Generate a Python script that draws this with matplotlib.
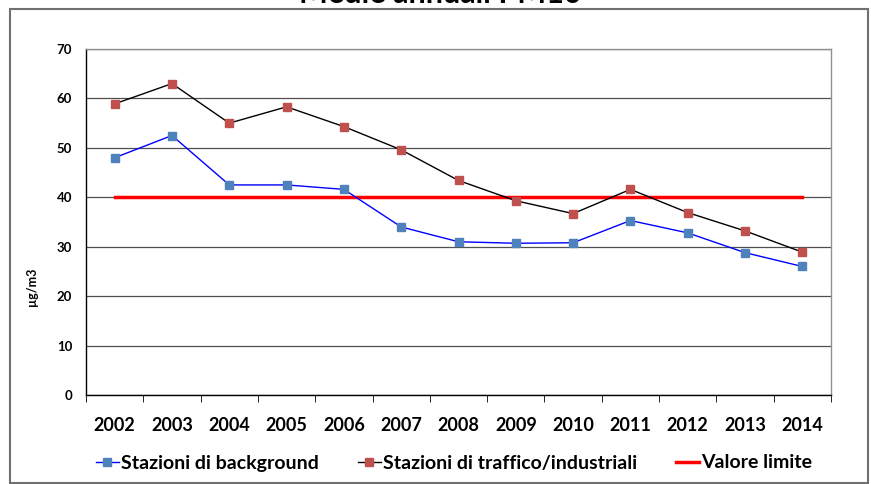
import numpy as np
import matplotlib.pyplot as plt
from matplotlib.lines import Line2D
from matplotlib.patches import Rectangle

years = ['2002', '2003', '2004', '2005', '2006', '2007', '2008',
         '2009', '2010', '2011', '2012', '2013', '2014']
background = [48.0, 52.5, 42.5, 42.5, 41.6, 34.0, 31.0, 30.7, 30.8, 35.3, 32.8, 28.8, 26.0]
traffico = [58.9, 63.0, 55.0, 58.3, 54.3, 49.6, 43.4, 39.3, 36.7, 41.6, 36.9, 33.2, 28.9]
limite = [40] * len(years)

plt.rcParams['font.family'] = ['Lato', 'DejaVu Sans']
plt.rcParams['font.weight'] = 'bold'

W, H = 871, 484
fig = plt.figure(figsize=(W / 100, H / 100), dpi=100)
ax = fig.add_axes([86 / W, 1 - 395 / H, (831 - 86) / W, (395 - 49) / H])

x = np.arange(len(years))
ax.plot(x, limite, color='#FF0000', lw=2.5, zorder=2)
ax.plot(x, traffico, color='black', lw=1, marker='s', ms=5.5,
        mfc='#C0504D', mec='#C0504D', zorder=3)
ax.plot(x, background, color='#0000FF', lw=1, marker='s', ms=5.5,
        mfc='#4F81BD', mec='#4F81BD', zorder=3)

ax.set_xlim(-0.5, len(years) - 0.5)
ax.set_ylim(0, 70)
ax.set_yticks(np.arange(0, 71, 10))
ax.set_xticks(x)
ax.set_xticklabels(years, fontsize=13, fontweight='bold')
ax.set_xticks(np.arange(-0.5, len(years), 1), minor=True)
ax.tick_params(axis='x', which='major', length=0, pad=16)
ax.tick_params(axis='x', which='minor', length=5, direction='out', color='black')
ax.tick_params(axis='y', length=0, pad=10, labelsize=9.5)
for lbl in ax.get_yticklabels():
    lbl.set_fontweight('bold')

ax.grid(axis='y', color='#505050', lw=0.9, zorder=1)
ax.spines['left'].set_color('black')
ax.spines['bottom'].set_color('black')
ax.spines['top'].set_color('#909090')
ax.spines['right'].set_color('#909090')
for s in ax.spines.values():
    s.set_linewidth(1)

fig.text(32 / W, 1 - 287 / H, 'µg/m3', rotation=90, ha='center', va='center',
         fontsize=9, fontweight='bold')

fig.text(440 / W, 1 - 3 / H, 'Medie annuali PM10', ha='center', va='baseline',
         fontsize=22, fontweight='bold')

handles = [
    Line2D([], [], color='#0000FF', lw=1, marker='s', ms=5.5, mfc='#4F81BD', mec='#4F81BD'),
    Line2D([], [], color='black', lw=1, marker='s', ms=5.5, mfc='#C0504D', mec='#C0504D'),
    Line2D([], [], color='#FF0000', lw=2.5),
]
labels = ['Stazioni di background', 'Stazioni di traffico/industriali', 'Valore limite']
fig.legend(handles, labels, loc='center', bbox_to_anchor=(454 / W, 1 - 463 / H),
           ncol=3, frameon=False, handlelength=1.2, handletextpad=0.1,
           columnspacing=2.0, prop={'weight': 'bold', 'size': 14})

fig.patches.append(Rectangle((10 / W, 0.002), (868 - 10) / W, 1 - 9 / H - 0.002,
                             transform=fig.transFigure, fill=False,
                             edgecolor='#707070', lw=1.5))

fig.savefig('out.png', dpi=100)
